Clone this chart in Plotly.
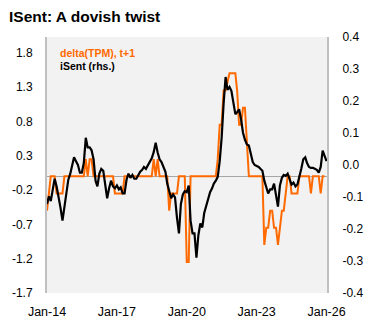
import pandas as pd
import plotly.graph_objects as go

# ---- data (monthly, Jan 2014 onward) ----
tpm_change = [
    -0.5, -0.25, 0, 0, 0, -0.25, -0.25, -0.25, -0.25, 0, 0, 0,            # 2014
    0, 0, 0, 0, 0, 0, 0, 0, 0.25, 0, 0.25, 0.25,                          # 2015
    0, 0, 0, 0, 0, 0, 0, 0, 0, 0, 0, -0.25,                               # 2016
    -0.25, -0.25, -0.25, -0.25, 0, 0, 0, 0, 0, 0, 0, 0,                   # 2017
    0, 0, 0, 0, 0, 0, 0, 0.25, 0, 0.25, 0, 0,                             # 2018
    0, 0, 0, -0.5, -0.25, -0.25, -0.25, -0.25, 0, 0, 0, 0,                # 2019
    -1.25, -1.25, 0, 0, 0, 0, 0, 0, 0, 0, 0, 0,                           # 2020
    0, 0, 0, 0, 0.25, 0.75, 0.75, 1.25, 1.25, 1.4, 1.5, 1.5,              # 2021
    1.5, 1.5, 1.25, 0.75, 0.75, 1.0, 1.0, 0.5, 0, 0, 0, 0,                # 2022
    0, 0, 0, 0, -1.0, -0.75, -0.75, -0.5, -0.5, -0.75, -0.75, -1.0,       # 2023
    -0.75, -0.5, -0.5, -0.25, 0, 0, -0.25, -0.25, -0.25, -0.25, 0, 0,     # 2024
    0, 0, 0, 0, -0.25, 0, 0, 0, 0, -0.25, 0, 0,                           # 2025
]

isent = [
    -0.122, -0.098, -0.113, -0.073, -0.043, -0.067, -0.095, -0.134, -0.174, -0.128, -0.079, -0.046,  # 2014
    -0.027, 0.003, 0.024, 0.012, 0.0, -0.024, -0.024, 0.006, 0.085, 0.055, 0.055, 0.046,             # 2015
    0.018, -0.049, -0.067, -0.027, -0.012, -0.018, -0.055, -0.104, -0.073, -0.049, -0.067, -0.073,   # 2016
    -0.064, -0.076, -0.070, -0.089, -0.089, -0.046, -0.027, -0.040, -0.031, -0.043, -0.043, -0.031,  # 2017
    -0.021, -0.015, -0.006, -0.012, 0.0, 0.012, 0.021, 0.040, 0.070, 0.040, 0.018, 0.009,            # 2018
    -0.009, -0.021, -0.058, -0.082, -0.104, -0.092, -0.101, -0.165, -0.214, -0.122, -0.092, -0.082,  # 2019
    -0.085, -0.064, -0.174, -0.214, -0.214, -0.29, -0.22, -0.183, -0.195, -0.150, -0.128, -0.110,    # 2020
    -0.085, -0.073, -0.058, -0.049, -0.037, 0.012, 0.085, 0.192, 0.275, 0.235, 0.244, 0.232,         # 2021
    0.192, 0.159, 0.165, 0.174, 0.144, 0.101, 0.079, 0.064, 0.061, 0.031, 0.009, 0.0,                # 2022
    -0.003, -0.006, -0.012, -0.018, -0.049, -0.067, -0.089, -0.076, -0.076, -0.058, -0.101, -0.13,   # 2023
    -0.064, -0.040, -0.031, -0.034, -0.027, -0.043, -0.061, -0.055, -0.067, -0.061, -0.040, -0.012,  # 2024
    0.018, 0.024, 0.006, -0.006, -0.009, -0.009, -0.012, -0.015, -0.024, -0.006, 0.045, 0.03,        # 2025
    0.012,                                                                                            # 2026
]

start_month = "2014-01-01"
x_tick_dates = ["2014-01-01", "2017-01-01", "2020-01-01", "2023-01-01", "2026-01-01"]
x_tick_labels = ["Jan-14", "Jan-17", "Jan-20", "Jan-23", "Jan-26"]
left_ticks = [-1.7, -1.2, -0.7, -0.2, 0.3, 0.8, 1.3, 1.8]
left_tick_labels = ["-1.7", "-1.2", "-0.7", "-0.2", "0.3", "0.8", "1.3", "1.8"]
right_ticks = [-0.4, -0.3, -0.2, -0.1, 0.0, 0.1, 0.2, 0.3, 0.4]
right_tick_labels = ["-0.4", "-0.3", "-0.2", "-0.1", "0.0", "0.1", "0.2", "0.3", "0.4"]

title_text = "ISent: A dovish twist"
name_tpm = "delta(TPM), t+1"
name_isent = "iSent (rhs.)"

ORANGE = "#FF6A00"
FONT = "Liberation Sans, Arial, sans-serif"

dates_tpm = pd.date_range(start_month, periods=len(tpm_change), freq="MS")
dates_isent = pd.date_range(start_month, periods=len(isent), freq="MS")

fig = go.Figure()
fig.add_trace(go.Scatter(x=dates_tpm, y=tpm_change, mode="lines", name=name_tpm,
                         line=dict(color=ORANGE, width=2), yaxis="y"))
fig.add_trace(go.Scatter(x=dates_isent, y=isent, mode="lines", name=name_isent,
                         line=dict(color="#000000", width=2.2), yaxis="y2"))

fig.update_layout(
    width=375, height=331,
    margin=dict(l=44, r=41, t=37, b=31),
    paper_bgcolor="white",
    plot_bgcolor="#f2f2f2",
    showlegend=False,
    font=dict(family=FONT, size=12, color="black"),
    title=dict(text="<b>" + title_text + "</b>", x=9 / 375, xanchor="left", xref="container",
               y=1 - 17 / 331, yanchor="middle", yref="container",
               font=dict(family=FONT, size=15.5, color="black")),
    xaxis=dict(type="date", range=["2014-01-01", "2026-01-08"],
               tickvals=x_tick_dates, ticktext=x_tick_labels,
               showgrid=False, zeroline=False, showline=False, ticks="",
               tickfont=dict(size=12.5), ticklabelstandoff=9),
    yaxis=dict(range=[-1.7001, 2.03], tickvals=left_ticks, ticktext=left_tick_labels,
               showgrid=False, zeroline=True, zerolinecolor="#a6a6a6", zerolinewidth=1,
               showline=True, linecolor="#c0c0c0", linewidth=2, ticks="",
               tickfont=dict(size=12), ticklabelstandoff=10),
    yaxis2=dict(range=[-0.4001, 0.4001], tickvals=right_ticks, ticktext=right_tick_labels,
                overlaying="y", side="right",
                showgrid=False, zeroline=False,
                showline=True, linecolor="#c0c0c0", linewidth=2, ticks="",
                tickfont=dict(size=12), ticklabelstandoff=11),
    annotations=[
        dict(text="<b>" + name_tpm + "</b>", xref="paper", yref="paper",
             x=11 / 290, y=(300 - 53.5) / 263, xanchor="left", yanchor="middle",
             showarrow=False, font=dict(family=FONT, size=10.5, color=ORANGE)),
        dict(text="<b>" + name_isent + "</b>", xref="paper", yref="paper",
             x=11 / 290, y=(300 - 67) / 263, xanchor="left", yanchor="middle",
             showarrow=False, font=dict(family=FONT, size=10.5, color="black")),
    ],
)

fig.write_html("out.html")
